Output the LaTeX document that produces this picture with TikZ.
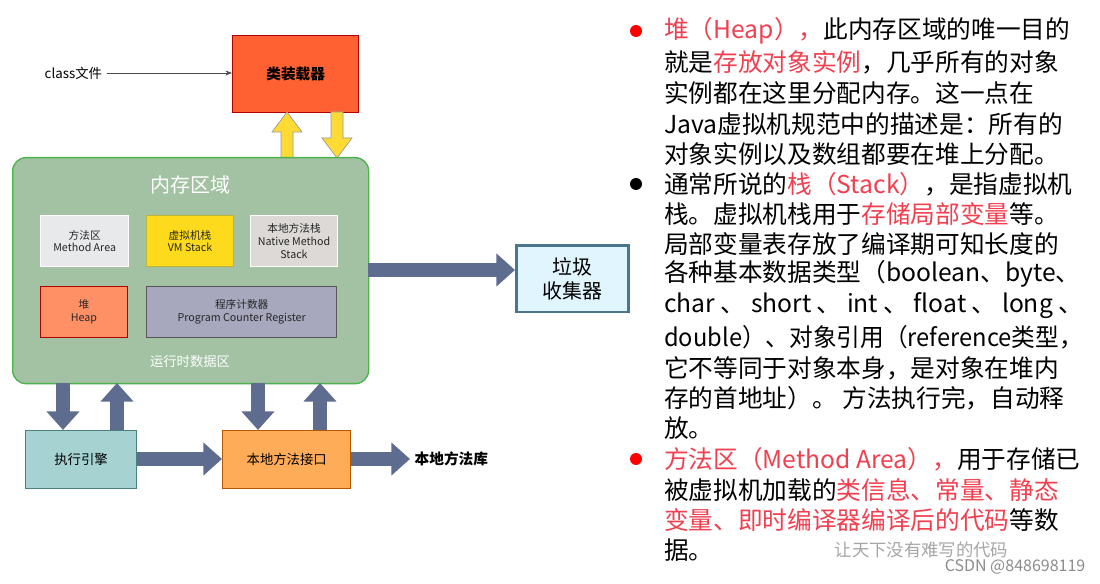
\documentclass[tikz,border=0pt]{standalone}
\usepackage{fontspec}
\setmainfont{Noto Sans CJK SC}
\usetikzlibrary{arrows.meta}
\definecolor{hl}{HTML}{F04050}
\definecolor{ab}{HTML}{5E6C90}
\tikzset{
 box/.style={draw=#1!70!black,line width=1pt,inner sep=0pt,anchor=north west},
 lbl/.style={font=\fontsize{8}{9.5}\selectfont,align=center,text=black!85},
 barrow/.style={ab,line width=11pt,-{Triangle[width=24pt,length=14pt]}},
 yarrow/.style={draw=black!40,fill=yellow!70!orange!80,line width=0.5pt},
 tl/.style={anchor=west,font=\fontsize{18.5}{20}\selectfont,inner sep=0pt},
 bul/.style={circle,inner sep=0pt,minimum size=9pt}
}
\begin{document}
\begin{tikzpicture}[x=0.75pt,y=-0.75pt]
\useasboundingbox (0,0) rectangle (1100,584);
\fill[white] (0,0) rectangle (1100,584);
% class loader
\node[box=red,fill=red!55!orange!80,minimum width=94.5pt,minimum height=57.75pt] (cl) at (232,35) {};
\node[font=\fontsize{11}{12}\selectfont\bfseries] at (cl.center) {类装载器};
\node[font=\fontsize{10}{12}\selectfont,anchor=west] (cf) at (40,73) {class文件};
\draw[-{Stealth[length=5pt]},black!70] (cf.east) -- (cl.west|-cf.east);
% yellow arrows
\filldraw[yarrow] (281,158) -- (281,132) -- (272,132) -- (287,112) -- (302,132) -- (293,132) -- (293,158) -- cycle;
\filldraw[yarrow] (331,112) -- (331,138) -- (322,138) -- (337,158) -- (352,138) -- (343,138) -- (343,112) -- cycle;
% memory area
\node[box=green,draw=green!40!gray,fill=green!20!gray!60!white,rounded corners=10pt,minimum width=267pt,minimum height=169.5pt] (mem) at (12,157) {};
\node[text=white,font=\fontsize{15}{16}\selectfont] at (190,185) {内存区域};
\node[text=white,font=\fontsize{10}{11}\selectfont] at (190,361) {运行时数据区};
\node[box=gray,draw=white,fill=cyan!8!gray!20,minimum width=66pt,minimum height=38pt] (ma) at (40,215) {};
\node[lbl] at (ma.center) {方法区\\Method Area};
\node[box=yellow,fill=yellow!75!orange!90,minimum width=65pt,minimum height=38pt] (vm) at (146,215) {};
\node[lbl] at (vm.center) {虚拟机栈\\VM Stack};
\node[box=gray,draw=white,fill=brown!15!gray!30,minimum width=65pt,minimum height=38pt] (ns) at (250,215) {};
\node[lbl] at (ns.center) {本地方法栈\\Native Method\\Stack};
\node[box=red,fill=red!45!orange!60!white,minimum width=65pt,minimum height=38pt] (hp) at (40,286) {};
\node[lbl] at (hp.center) {堆\\Heap};
\node[box=gray,fill=blue!15!gray!60,minimum width=142.5pt,minimum height=38pt] (pc) at (146,286) {};
\node[lbl] at (pc.center) {程序计数器\\Program Counter Register};
% GC
\node[box=cyan,draw=cyan!50!black,line width=2pt,fill=cyan!12,minimum width=84pt,minimum height=50pt] (gc) at (515,244) {};
\node[font=\fontsize{15}{18}\selectfont,align=center] at (gc.center) {垃圾\\收集器};
\draw[barrow] (368,270) -- (gc.west|-0,270);
% bottom
\node[box=teal,draw=teal!40!gray,fill=teal!35!white,minimum width=83pt,minimum height=43.5pt] (ee) at (25,430) {};
\node[font=\fontsize{10}{12}\selectfont] at (ee.center) {执行引擎};
\node[box=orange,fill=orange!65!white,minimum width=96pt,minimum height=43.5pt] (ni) at (222,430) {};
\node[font=\fontsize{10}{12}\selectfont] at (ni.center) {本地方法接口};
\node[font=\fontsize{11}{12}\selectfont\bfseries,anchor=west] (nl) at (410,459) {本地方法库};
\draw[barrow] (ee.east|-0,459) -- (ni.west|-0,459);
\draw[barrow] (ni.east|-0,459) -- (nl.west);
\draw[barrow] (63,383) -- (63,430);
\draw[barrow] (117,430) -- (117,383);
\draw[barrow] (258,383) -- (258,430);
\draw[barrow] (320,430) -- (320,383);
% text
\node[bul,fill=red] at (636,31) {};
\node[bul,fill=black] at (636,184) {};
\node[bul,fill=red] at (636,459) {};
\node[tl] at (664,31) {\textcolor{hl}{堆（Heap），}此内存区域的唯一目的};
\node[tl] at (664,62) {就是\textcolor{hl}{存放对象实例}，几乎所有的对象};
\node[tl] at (664,93) {实例都在这里分配内存。这一点在};
\node[tl] at (664,124) {Java虚拟机规范中的描述是：所有的};
\node[tl] at (664,154) {对象实例以及数组都要在堆上分配。};
\node[tl] at (664,184) {通常所说的\textcolor{hl}{栈（Stack）}，是指虚拟机};
\node[tl] at (664,214) {栈。虚拟机栈用于\textcolor{hl}{存储局部变量}等。};
\node[tl] at (664,244) {局部变量表存放了编译期可知长度的};
\node[tl] at (664,274) {各种基本数据类型（boolean、byte、};
\node[tl] at (664,306) {char 、 short 、 int 、 float 、 long 、};
\node[tl] at (664,337) {\scalebox{0.96}[1]{double）、对象引用（reference类型，}};
\node[tl] at (664,368) {它不等同于对象本身，是对象在堆内};
\node[tl] at (664,398) {存的首地址）。 方法执行完，自动释};
\node[tl] at (664,428) {放。};
\node[tl] at (664,459) {\textcolor{hl}{方法区（Method Area），}用于存储已};
\node[tl] at (664,490) {被虚拟机加载的\textcolor{hl}{类信息、常量、静态}};
\node[tl] at (664,520) {\textcolor{hl}{变量、即时编译器编译后的代码}等数};
\node[tl] at (664,550) {据。};
\node[anchor=west,text=black!35,font=\fontsize{13}{14}\selectfont] at (830,550) {让天下没有难写的代码};
\node[anchor=east,text=black!45,font=\fontsize{12}{14}\selectfont] at (1090,567) {CSDN @848698119};
\end{tikzpicture}
\end{document}
